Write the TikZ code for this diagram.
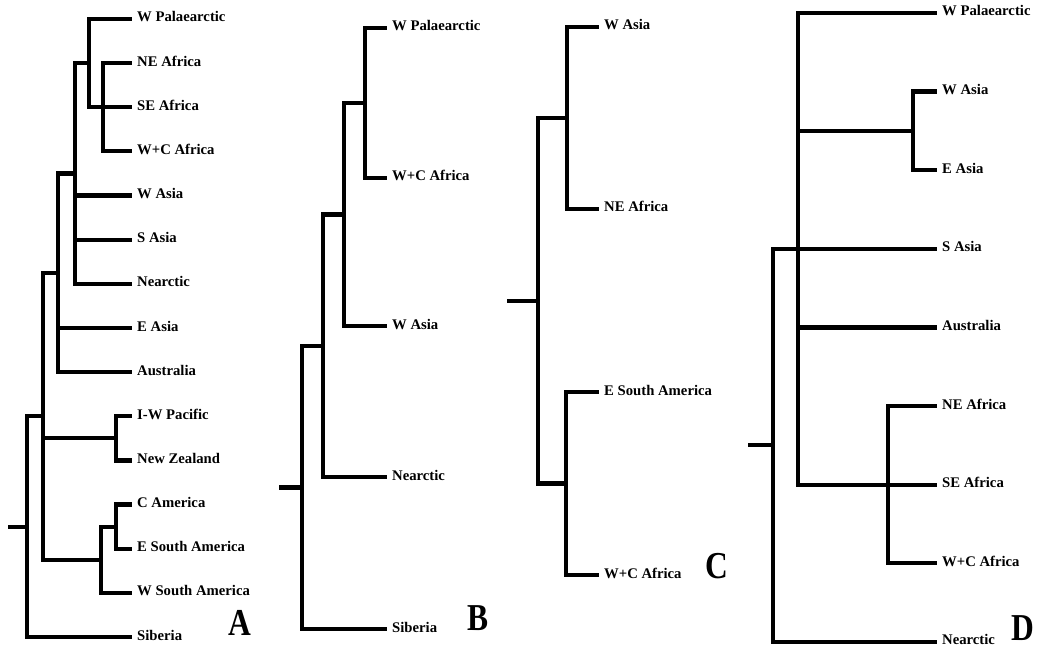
\documentclass[tikz,border=0pt]{standalone}
\usepackage{fontspec}
\setmainfont{Liberation Serif}
\begin{document}
\begin{tikzpicture}[x=1pt,y=-1pt,
  br/.style={line width=4.2pt, line join=miter},
  lab/.style={anchor=west, inner xsep=5pt, inner ysep=1pt, text height=6pt, text depth=0pt,
    font=\fontsize{14.7}{16}\selectfont\bfseries},
  panel/.style={anchor=base, inner sep=0pt, xscale=0.83,
    font=\fontsize{38}{40}\selectfont\bfseries}]
\useasboundingbox (0,0) rectangle (1039,647);

% ---------------- Tree A ----------------
\node[lab] (aWPal) at (132,19) {W Palaearctic};
\node[lab] (aNEAf) at (132,63.1) {NE Africa};
\node[lab] (aSEAf) at (132,107.3) {SE Africa};
\node[lab] (aWCAf) at (132,151.4) {W+C Africa};
\node[lab] (aWAs) at (132,195.6) {W Asia};
\node[lab] (aSAs) at (132,239.7) {S Asia};
\node[lab] (aNea) at (132,283.8) {Nearctic};
\node[lab] (aEAs) at (132,328) {E Asia};
\node[lab] (aAus) at (132,372.1) {Australia};
\node[lab] (aIWP) at (132,416.3) {I-W Pacific};
\node[lab] (aNZ) at (132,460.4) {New Zealand};
\node[lab] (aCAm) at (132,504.5) {C America};
\node[lab] (aESA) at (132,548.7) {E South America};
\node[lab] (aWSA) at (132,592.8) {W South America};
\node[lab] (aSib) at (132,637) {Siberia};

\coordinate (aAf) at (103,107.3);
\coordinate (aPal) at (89,63.2);
\coordinate (aN2) at (75,173.5);
\coordinate (aN3) at (58,272.8);
\coordinate (aPac) at (116,438.3);
\coordinate (aCA) at (116,526.6);
\coordinate (aSA) at (101,559.7);
\coordinate (aN4) at (43,416.2);
\coordinate (aRoot) at (27,526.6);
\coordinate (aStub) at (8,526.6);

\draw[br] (aAf) |- (aNEAf.west);
\draw[br] (aAf) |- (aSEAf.west);
\draw[br] (aAf) |- (aWCAf.west);
\draw[br] (aPal) |- (aWPal.west);
\draw[br] (aPal) |- (aAf);
\draw[br] (aN2) |- (aPal);
\draw[br] (aN2) |- (aWAs.west);
\draw[br] (aN2) |- (aSAs.west);
\draw[br] (aN2) |- (aNea.west);
\draw[br] (aN3) |- (aN2);
\draw[br] (aN3) |- (aEAs.west);
\draw[br] (aN3) |- (aAus.west);
\draw[br] (aPac) |- (aIWP.west);
\draw[br] (aPac) |- (aNZ.west);
\draw[br] (aCA) |- (aCAm.west);
\draw[br] (aCA) |- (aESA.west);
\draw[br] (aSA) |- (aCA);
\draw[br] (aSA) |- (aWSA.west);
\draw[br] (aN4) |- (aN3);
\draw[br] (aN4) |- (aPac);
\draw[br] (aN4) |- (aSA);
\draw[br] (aRoot) |- (aN4);
\draw[br] (aRoot) |- (aSib.west);
\draw[br] (aStub) -- (aRoot);
\node[panel] (pA) at (239.5,635) {A};

% ---------------- Tree B ----------------
\node[lab] (bWPal) at (387,28) {W Palaearctic};
\node[lab] (bWCAf) at (387,178) {W+C Africa};
\node[lab] (bWAs) at (387,326) {W Asia};
\node[lab] (bNea) at (387,477) {Nearctic};
\node[lab] (bSib) at (387,629) {Siberia};
\coordinate (bN1) at (365,103);
\coordinate (bN2) at (344,214.5);
\coordinate (bN3) at (323,345.8);
\coordinate (bRoot) at (302,487.4);
\coordinate (bStub) at (279,487.4);
\draw[br] (bN1) |- (bWPal.west);
\draw[br] (bN1) |- (bWCAf.west);
\draw[br] (bN2) |- (bN1);
\draw[br] (bN2) |- (bWAs.west);
\draw[br] (bN3) |- (bN2);
\draw[br] (bN3) |- (bNea.west);
\draw[br] (bRoot) |- (bN3);
\draw[br] (bRoot) |- (bSib.west);
\draw[br] (bStub) -- (bRoot);
\node[panel] (pB) at (478.5,630) {B};

% ---------------- Tree C ----------------
\node[lab] (cWAs) at (599,27) {W Asia};
\node[lab] (cNEAf) at (599,209) {NE Africa};
\node[lab] (cESA) at (599,392) {E South America};
\node[lab] (cWCAf) at (599,575) {W+C Africa};
\coordinate (cN1) at (567,118);
\coordinate (cN2) at (566,483.5);
\coordinate (cRoot) at (538,300.8);
\coordinate (cStub) at (507,300.8);
\draw[br] (cN1) |- (cWAs.west);
\draw[br] (cN1) |- (cNEAf.west);
\draw[br] (cN2) |- (cESA.west);
\draw[br] (cN2) |- (cWCAf.west);
\draw[br] (cRoot) |- (cN1);
\draw[br] (cRoot) |- (cN2);
\draw[br] (cStub) -- (cRoot);
\node[panel] (pC) at (716.5,578) {C};

% ---------------- Tree D ----------------
\node[lab] (dWPal) at (937,13) {W Palaearctic};
\node[lab] (dWAs) at (937,91.6) {W Asia};
\node[lab] (dEAs) at (937,170.2) {E Asia};
\node[lab] (dSAs) at (937,248.8) {S Asia};
\node[lab] (dAus) at (937,327.4) {Australia};
\node[lab] (dNEAf) at (937,406) {NE Africa};
\node[lab] (dSEAf) at (937,484.6) {SE Africa};
\node[lab] (dWCAf) at (937,563.2) {W+C Africa};
\node[lab] (dNea) at (937,641.8) {Nearctic};
\coordinate (dAs) at (913,130.9);
\coordinate (dAf) at (888,484.6);
\coordinate (dN1) at (798,248.8);
\coordinate (dRoot) at (773,445.3);
\coordinate (dStub) at (748,445.3);
\draw[br] (dAs) |- (dWAs.west);
\draw[br] (dAs) |- (dEAs.west);
\draw[br] (dAf) |- (dNEAf.west);
\draw[br] (dAf) |- (dWCAf.west);
\draw[br] (dN1) |- (dWPal.west);
\draw[br] (dN1) |- (dAs);
\draw[br] (dN1) |- (dSAs.west);
\draw[br] (dN1) |- (dAus.west);
\draw[br] (dN1) |- (dSEAf.west);
\draw[br] (dRoot) |- (dN1);
\draw[br] (dRoot) |- (dNea.west);
\draw[br] (dStub) -- (dRoot);
\node[panel] (pD) at (1023,640) {D};
\end{tikzpicture}
\end{document}
